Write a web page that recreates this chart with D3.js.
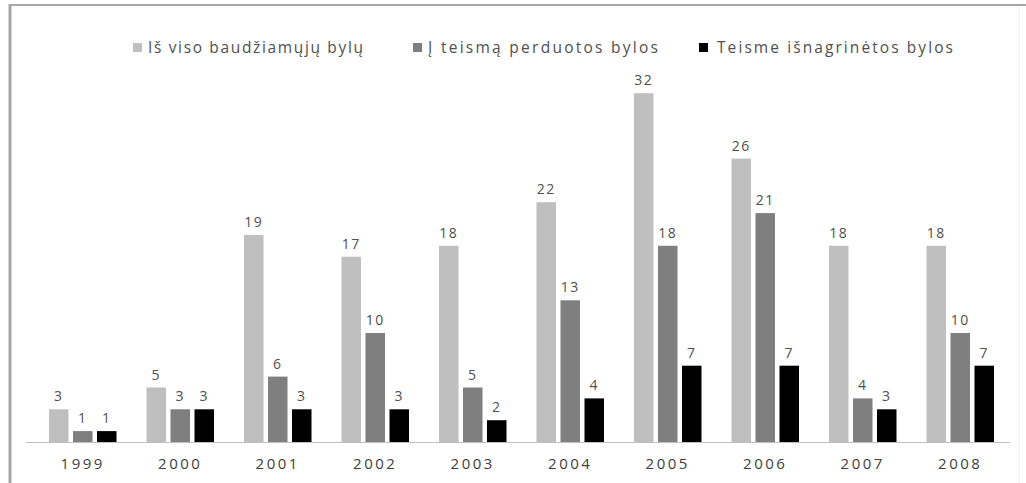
<!DOCTYPE html>
<html>
<head>
<meta charset="utf-8">
<script src="https://cdn.jsdelivr.net/npm/d3@7"></script>
<style>
html,body{margin:0;padding:0;background:#fff;}
svg{display:block;}
</style>
</head>
<body>
<svg id="chart" width="1026" height="483"></svg>
<script>
const years = ["1999","2000","2001","2002","2003","2004","2005","2006","2007","2008"];
const seriesNames = ["Iš viso baudžiamųjų bylų","Į teismą perduotos bylos","Teisme išnagrinėtos bylos"];
const totalCases = [3,5,19,17,18,22,32,26,18,18];
const sentToCourt = [1,3,6,10,5,13,18,21,4,10];
const examinedInCourt = [1,3,3,3,2,4,7,7,3,7];
const seriesColors = ["#bfbfbf","#7f7f7f","#000000"];

const seriesValues = [totalCases, sentToCourt, examinedInCourt];
const svg = d3.select("#chart");
const W = 1026, H = 483;
const font = "'Open Sans', 'Noto Sans', sans-serif";

// frame
svg.append("rect").attr("x",0).attr("y",0).attr("width",W).attr("height",H).attr("fill","#fff");
svg.append("line").attr("x1",10).attr("x2",10).attr("y1",4).attr("y2",H).attr("stroke","#a6a6a6").attr("stroke-width",3);
svg.append("line").attr("x1",9).attr("x2",W).attr("y1",5).attr("y2",5).attr("stroke","#a6a6a6").attr("stroke-width",2);
svg.append("line").attr("x1",1019).attr("x2",1019).attr("y1",6).attr("y2",H).attr("stroke","#ececec").attr("stroke-width",1);

const x0 = d3.scaleBand().domain(years).range([34, 1009]).padding(0);
const x1 = d3.scaleBand().domain(d3.range(3)).range([0, 67.5]).paddingInner(0.1875).paddingOuter(0);
const y = d3.scaleLinear().domain([0, 35]).range([442, 442 - 35*10.9]);

const groups = svg.append("g").selectAll("g").data(years).join("g")
  .attr("transform", d => `translate(${x0(d) + x0.bandwidth()/2 - 33.75},0)`);

groups.each(function(yr, i){
  const g = d3.select(this);
  const data = seriesValues.map((s, k) => ({k, v: s[i]}));
  g.selectAll("rect").data(data).join("rect")
    .attr("x", d => x1(d.k))
    .attr("width", x1.bandwidth())
    .attr("y", d => y(d.v))
    .attr("height", d => y(0) - y(d.v))
    .attr("fill", d => seriesColors[d.k]);
  g.selectAll("text").data(data).join("text")
    .attr("x", d => x1(d.k) + x1.bandwidth()/2)
    .attr("y", d => y(d.v) - 8)
    .attr("text-anchor","middle")
    .attr("font-family", font)
    .attr("font-size", 14)
    .attr("letter-spacing", 1.5)
    .attr("fill", "#505050")
    .text(d => d.v);
});

// axis
const xAxis = d3.axisBottom(x0).tickSize(0).tickPadding(16);
const ax = svg.append("g").attr("transform", `translate(0,${y(0)})`).call(xAxis);
ax.select(".domain").attr("stroke","#bfbfbf").attr("d", "M26,0.5H1010");
ax.selectAll("text").attr("font-family", font).attr("font-size", 15).attr("letter-spacing", 2.5).attr("fill","#404040");

// legend
const legendItems = [
  {sq: 133, tx: 148, tw: 215},
  {sq: 413, tx: 428, tw: 230},
  {sq: 699, tx: 717, tw: 236}
];
const lg = svg.append("g");
seriesNames.forEach((name, k) => {
  const it = legendItems[k];
  lg.append("rect").attr("x", it.sq).attr("y", 43).attr("width", 9).attr("height", 9).attr("fill", seriesColors[k]);
  lg.append("text").attr("x", it.tx).attr("y", 53)
    .attr("font-family", font).attr("font-size", 15.5).attr("fill", "#505050")
    .attr("textLength", it.tw).attr("lengthAdjust","spacing")
    .text(name);
});
</script>
</body>
</html>
